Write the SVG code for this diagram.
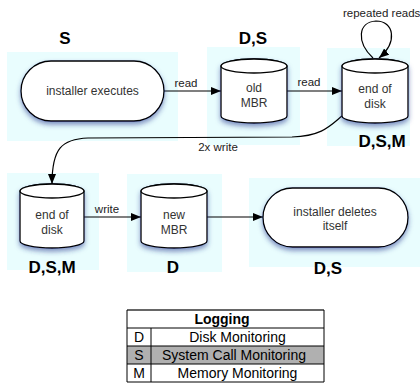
<svg xmlns="http://www.w3.org/2000/svg" width="420" height="383" viewBox="0 0 420 383">
<style>
.zone{fill:#e9fdfe;stroke:none}
.node{fill:#fff;stroke:#000;stroke-width:1.3}
.ntext{font-family:"Liberation Sans",Arial,sans-serif;font-size:12px;fill:#333;text-anchor:middle}
.lbl{font-family:"Liberation Sans",Arial,sans-serif;font-size:17px;font-weight:bold;fill:#000;text-anchor:middle}
.etext{font-family:"Liberation Sans",Arial,sans-serif;font-size:11.5px;fill:#222;text-anchor:middle}
.edge{fill:none;stroke:#000;stroke-width:1.2}
.ttext{font-family:"Liberation Sans",Arial,sans-serif;font-size:14px;fill:#000}
.tline{stroke:#000;stroke-width:1;fill:none}
</style>
<defs>
<filter id="sh" x="-20%" y="-20%" width="140%" height="150%">
<feDropShadow dx="0" dy="3" stdDeviation="2.5" flood-color="#2a3a90" flood-opacity="0.55"/>
</filter>
<marker id="ah" viewBox="0 0 10 8" refX="10" refY="4" markerWidth="10" markerHeight="8" markerUnits="userSpaceOnUse" orient="auto">
<path d="M0,0 L10,4 L0,8 Z" fill="#000"/>
</marker>
</defs>

<g id="zones">
<rect class="zone" x="7" y="52" width="171" height="89"/>
<rect class="zone" x="207" y="47" width="93" height="98"/>
<rect class="zone" x="327" y="48" width="83" height="98"/>
<rect class="zone" x="7" y="173" width="92" height="97"/>
<rect class="zone" x="127" y="174" width="95" height="98"/>
<rect class="zone" x="249" y="178" width="171" height="89"/>
</g>

<g id="connectors">
<path class="edge" d="M164,91 L221,91" marker-end="url(#ah)"/>
<text class="etext" x="186" y="87">read</text>
<path class="edge" d="M287,91 L342,91" marker-end="url(#ah)"/>
<text class="etext" x="309" y="86">read</text>
<path class="edge" d="M373,58 C356,42 358,22 376,21 C394,21 398,42 379,58" marker-end="url(#ah)"/>
<text class="etext" x="343" y="17" style="text-anchor:start">repeated reads</text>
<path class="edge" d="M342,116 C330,126 322,136 292,137 L88,138 C62,139 52,148 52,184" marker-end="url(#ah)"/>
<text class="etext" x="218" y="151">2x write</text>
<path class="edge" d="M84,217 L141,217" marker-end="url(#ah)"/>
<text class="etext" x="107" y="213">write</text>
<path class="edge" d="M207,217 L263,217" marker-end="url(#ah)"/>
</g>

<g id="n_installer_executes">
<rect class="node" x="21" y="61" width="143" height="60" rx="30" ry="30" filter="url(#sh)"/>
<text class="ntext" x="92.5" y="95">installer executes</text>
<text class="lbl" x="65" y="44">S</text>
</g>

<g id="n_old_mbr">
<path class="node" filter="url(#sh)" d="M221,66 L221,116 A33,7 0 0 0 287,116 L287,66 A33,7 0 0 0 221,66 Z"/>
<ellipse class="node" cx="254" cy="66" rx="33" ry="7"/>
<text class="ntext" x="254" y="92">old</text>
<text class="ntext" x="254" y="107">MBR</text>
<text class="lbl" x="253" y="44">D,S</text>
</g>

<g id="n_end_of_disk_1">
<path class="node" filter="url(#sh)" d="M342,66 L342,116 A33,7 0 0 0 408,116 L408,66 A33,7 0 0 0 342,66 Z"/>
<ellipse class="node" cx="375" cy="66" rx="33" ry="7"/>
<text class="ntext" x="375" y="93">end of</text>
<text class="ntext" x="375" y="108">disk</text>
<text class="lbl" x="382" y="147">D,S,M</text>
</g>

<g id="n_end_of_disk_2">
<path class="node" filter="url(#sh)" d="M20,191 L20,241 A32,7 0 0 0 84,241 L84,191 A32,7 0 0 0 20,191 Z"/>
<ellipse class="node" cx="52" cy="191" rx="32" ry="7"/>
<text class="ntext" x="52" y="219">end of</text>
<text class="ntext" x="52" y="234">disk</text>
<text class="lbl" x="52" y="273">D,S,M</text>
</g>

<g id="n_new_mbr">
<path class="node" filter="url(#sh)" d="M141,191 L141,241 A33,7 0 0 0 207,241 L207,191 A33,7 0 0 0 141,191 Z"/>
<ellipse class="node" cx="174" cy="191" rx="33" ry="7"/>
<text class="ntext" x="174" y="219">new</text>
<text class="ntext" x="174" y="234">MBR</text>
<text class="lbl" x="173" y="273">D</text>
</g>

<g id="n_installer_deletes">
<rect class="node" x="263" y="188" width="145" height="59" rx="29.5" ry="29.5" filter="url(#sh)"/>
<text class="ntext" x="335" y="216">installer deletes</text>
<text class="ntext" x="335" y="230">itself</text>
<text class="lbl" x="328" y="274">D,S</text>
</g>

<g id="legend">
<rect x="127" y="346" width="197" height="18" fill="#b0b0b0"/>
<line x1="127" y1="310" x2="324" y2="310" stroke="#666" stroke-width="2"/>
<path class="tline" d="M127,310 L127,382 L324,382 L324,310 M127,328 L324,328 M127,346 L324,346 M127,364 L324,364 M151,328 L151,382"/>
<text class="ttext" x="222" y="324" style="font-weight:bold;text-anchor:middle">Logging</text>
<text class="ttext" x="139" y="342" style="text-anchor:middle">D</text>
<text class="ttext" x="237.5" y="342" style="text-anchor:middle">Disk Monitoring</text>
<text class="ttext" x="139" y="360" style="text-anchor:middle">S</text>
<text class="ttext" x="234" y="360" style="text-anchor:middle">System Call Monitoring</text>
<text class="ttext" x="139" y="378" style="text-anchor:middle">M</text>
<text class="ttext" x="237.5" y="378" style="text-anchor:middle">Memory Monitoring</text>
</g>
</svg>
